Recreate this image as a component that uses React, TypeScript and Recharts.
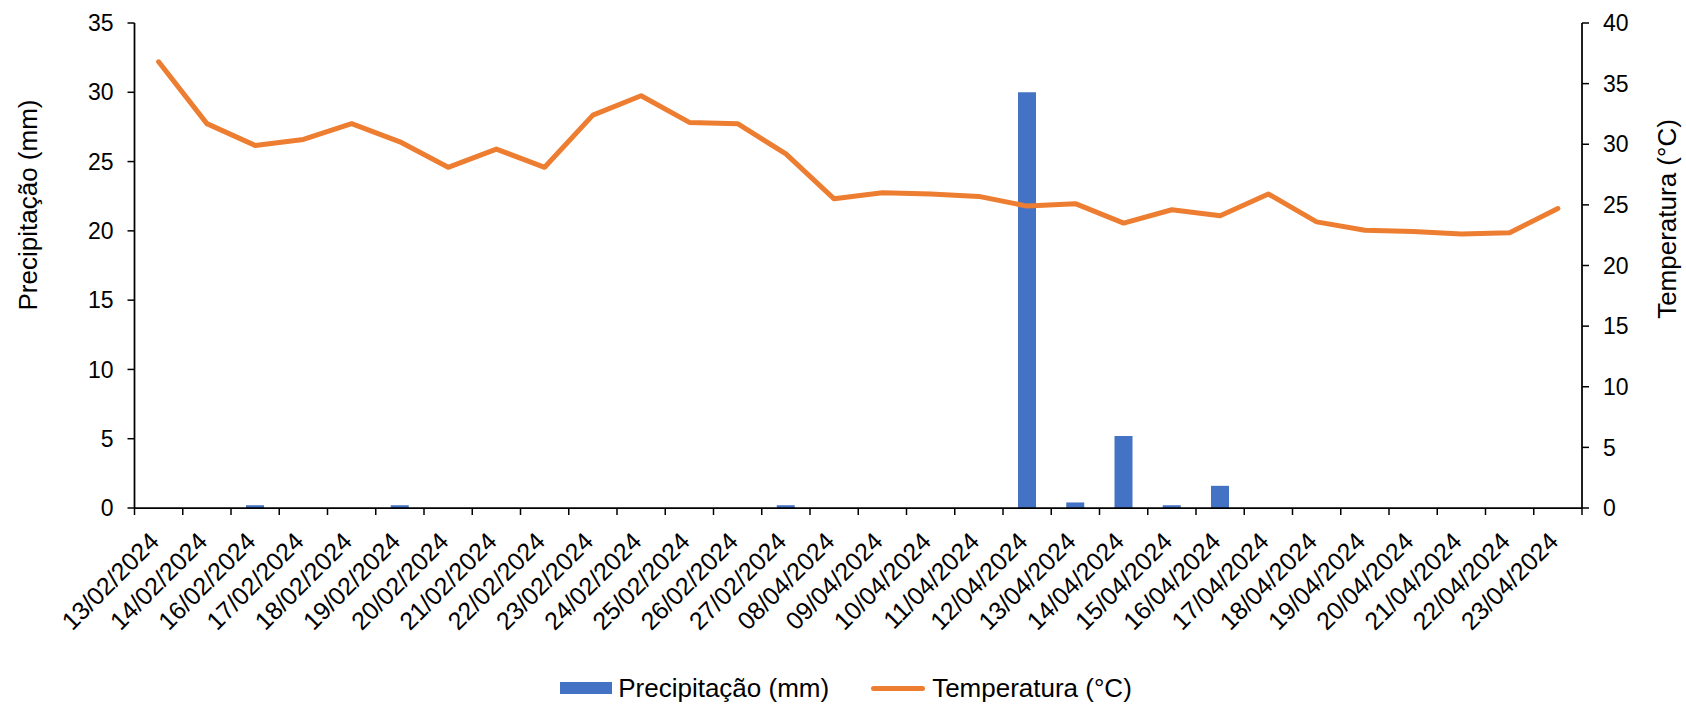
import { ComposedChart, Bar, Line, XAxis, YAxis, Legend, Label } from 'recharts';

const categories = [
  '13/02/2024', '14/02/2024', '16/02/2024', '17/02/2024', '18/02/2024',
  '19/02/2024', '20/02/2024', '21/02/2024', '22/02/2024', '23/02/2024',
  '24/02/2024', '25/02/2024', '26/02/2024', '27/02/2024', '08/04/2024',
  '09/04/2024', '10/04/2024', '11/04/2024', '12/04/2024', '13/04/2024',
  '14/04/2024', '15/04/2024', '16/04/2024', '17/04/2024', '18/04/2024',
  '19/04/2024', '20/04/2024', '21/04/2024', '22/04/2024', '23/04/2024',
];

// Precipitação (mm)
const precipitation = [
  0, 0, 0.2, 0, 0, 0.2, 0, 0, 0, 0,
  0, 0, 0, 0.2, 0, 0, 0, 0, 30, 0.4,
  5.2, 0.2, 1.6, 0, 0, 0, 0, 0, 0, 0,
];

// Temperatura (°C)
const temperature = [
  36.8, 31.7, 29.9, 30.4, 31.7, 30.2, 28.1, 29.6, 28.1, 32.4,
  34.0, 31.8, 31.7, 29.2, 25.5, 26.0, 25.9, 25.7, 24.9, 25.1,
  23.5, 24.6, 24.1, 25.9, 23.6, 22.9, 22.8, 22.6, 22.7, 24.7,
];

const precipTicks = [0, 5, 10, 15, 20, 25, 30, 35];
const tempTicks = [0, 5, 10, 15, 20, 25, 30, 35, 40];

const data = categories.map((date, i) => ({
  date,
  precipitation: precipitation[i],
  temperature: temperature[i],
}));

const FONT = '"Liberation Sans", Arial, sans-serif';
const BLUE = '#4472C4';
const ORANGE = '#ED7D31';

// category labels sit at the centre, tick marks sit on the category borders
const DateTick = (props: any) => {
  const { x, y, payload, index } = props;
  const half = payload && payload.offset ? payload.offset : 24.1;
  const tx = x + 2;
  const ty = y + 35;
  return (
    <g>
      <line x1={x - half} y1={y} x2={x - half} y2={y + 7} stroke="#000" strokeWidth={1.5} />
      {index === categories.length - 1 && (
        <line x1={x + half} y1={y} x2={x + half} y2={y + 7} stroke="#000" strokeWidth={1.5} />
      )}
      <text
        x={tx}
        y={ty}
        transform={`rotate(-45 ${tx} ${ty})`}
        textAnchor="end"
        fontSize={25}
        fontFamily={FONT}
        fill="#000"
      >
        {payload.value}
      </text>
    </g>
  );
};

const LegendContent = () => (
  <div
    style={{
      display: 'flex',
      justifyContent: 'center',
      alignItems: 'center',
      height: 30,
      paddingLeft: 6,
      fontFamily: FONT,
      fontSize: 26,
      color: '#000',
    }}
  >
    <span style={{ display: 'inline-block', width: 52, height: 12, background: BLUE, marginRight: 6 }} />
    <span>Precipitação (mm)</span>
    <span
      style={{
        display: 'inline-block',
        width: 54,
        height: 5,
        borderRadius: 3,
        background: ORANGE,
        marginLeft: 42,
        marginRight: 7,
      }}
    />
    <span>Temperatura (°C)</span>
  </div>
);

const axisTitle = (text: string, cx: number, cy: number) => () => (
  <text
    x={cx}
    y={cy}
    transform={`rotate(-90 ${cx} ${cy})`}
    textAnchor="middle"
    dominantBaseline="central"
    fontSize={26}
    fontFamily={FONT}
    fill="#000"
  >
    {text}
  </text>
);

export default function App() {
  return (
    <div style={{ position: 'absolute', left: 0, top: 0, background: '#fff' }}>
      <ComposedChart
        width={1686}
        height={704}
        data={data}
        margin={{ top: 23, right: 0, bottom: 0, left: 0 }}
      >
        <XAxis
          dataKey="date"
          interval={0}
          height={166}
          tickLine={false}
          tickSize={0}
          tickMargin={0}
          axisLine={{ stroke: '#000', strokeWidth: 1.75 }}
          tick={<DateTick />}
        />
        <YAxis
          yAxisId="left"
          width={134.5}
          domain={[0, 35]}
          ticks={precipTicks}
          interval={0}
          tickSize={7}
          tickMargin={14}
          axisLine={{ stroke: '#000', strokeWidth: 1.75 }}
          tickLine={{ stroke: '#000', strokeWidth: 1.5 }}
          tick={{ fontSize: 23, fill: '#000', fontFamily: FONT }}
        >
          <Label content={axisTitle('Precipitação (mm)', 28, 205)} />
        </YAxis>
        <YAxis
          yAxisId="right"
          orientation="right"
          width={104}
          domain={[0, 40]}
          ticks={tempTicks}
          interval={0}
          tickSize={7}
          tickMargin={14}
          axisLine={{ stroke: '#000', strokeWidth: 1.75 }}
          tickLine={{ stroke: '#000', strokeWidth: 1.5 }}
          tick={{ fontSize: 23, fill: '#000', fontFamily: FONT }}
        >
          <Label content={axisTitle('Temperatura (°C)', 1667, 219)} />
        </YAxis>
        <Bar
          yAxisId="left"
          dataKey="precipitation"
          name="Precipitação (mm)"
          fill={BLUE}
          barSize={18}
          isAnimationActive={false}
        />
        <Line
          yAxisId="right"
          type="linear"
          dataKey="temperature"
          name="Temperatura (°C)"
          stroke={ORANGE}
          strokeWidth={5}
          strokeLinecap="round"
          strokeLinejoin="round"
          dot={false}
          activeDot={false}
          isAnimationActive={false}
        />
        <Legend verticalAlign="bottom" wrapperStyle={{ bottom: 1 }} content={<LegendContent />} />
      </ComposedChart>
    </div>
  );
}
